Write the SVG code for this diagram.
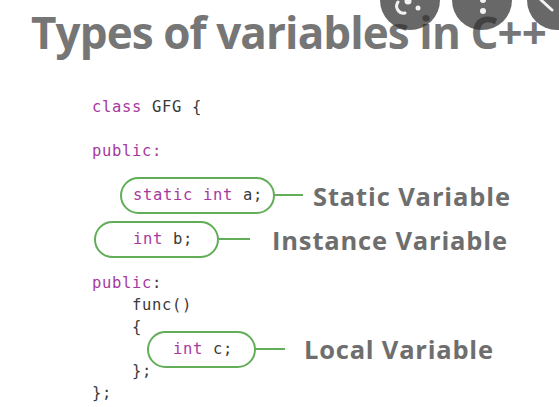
<svg xmlns="http://www.w3.org/2000/svg" width="559" height="407" viewBox="0 0 559 407">
<style>
.title{font-family:"Open Sans","Liberation Sans",sans-serif;font-weight:bold;font-size:44px;fill:#767676}
.lbl{font-family:"Open Sans","Liberation Sans",sans-serif;font-weight:bold;font-size:25.5px;fill:#6e6e6e}
.code{font-family:"DejaVu Sans Mono","Liberation Mono",monospace;font-size:15.5px;letter-spacing:0.67px;fill:#3a3a3a}
.kw{fill:#a8399f}
.pill{fill:none;stroke:#62ad58;stroke-width:2}
.conn line{stroke:#62ad58;stroke-width:2}
.ov{fill:#2e2e2e;fill-opacity:0.72}
</style>
<rect width="559" height="407" fill="#ffffff"/>
<text class="title" x="31" y="49" textLength="516">Types of variables in C++</text>
<g id="code">
<text class="code" x="92" y="112"><tspan class="kw">class</tspan> GFG {</text>
<text class="code kw" x="92" y="156">public:</text>
<text class="code" x="92" y="288"><tspan class="kw">public</tspan>:</text>
<text class="code" x="132" y="310">func()</text>
<text class="code" x="132" y="332">{</text>
<text class="code" x="132" y="376">};</text>
<text class="code" x="92" y="398">};</text>
</g>
<g id="static-node">
<rect class="pill" x="121" y="178" width="153" height="35" rx="17.5"/>
<text class="code" x="133" y="200"><tspan class="kw">static int</tspan> a;</text>
</g>
<g id="instance-node">
<rect class="pill" x="95" y="222" width="123" height="35" rx="17.5"/>
<text class="code" x="133" y="244"><tspan class="kw">int</tspan> b;</text>
</g>
<g id="local-node">
<rect class="pill" x="148" y="332" width="107" height="35" rx="17.5"/>
<text class="code" x="173" y="354"><tspan class="kw">int</tspan> c;</text>
</g>
<g class="conn" id="connectors">
<line x1="274" y1="195" x2="303" y2="195"/>
<line x1="218" y1="239" x2="250" y2="239"/>
<line x1="255" y1="349" x2="285" y2="349"/>
</g>
<g id="static-label"><text class="lbl" x="313" y="206" textLength="197">Static Variable</text></g>
<g id="instance-label"><text class="lbl" x="272" y="250" textLength="235">Instance Variable</text></g>
<g id="local-label"><text class="lbl" x="304" y="359" textLength="189">Local Variable</text></g>
<g id="overlay">
<circle class="ov" cx="410" cy="0" r="30"/>
<circle class="ov" cx="482" cy="0" r="30"/>
<circle class="ov" cx="557" cy="0" r="30"/>
<path d="M398 2 A7 7 0 0 0 405 13" fill="none" stroke="#f2f2f2" stroke-width="3" stroke-linecap="round"/>
<circle cx="408" cy="1" r="3.5" fill="#f2f2f2"/>
<circle cx="418" cy="8" r="2.5" fill="#f2f2f2"/>
<circle cx="483" cy="0" r="3" fill="#f2f2f2"/>
<circle cx="483" cy="11" r="3" fill="#f2f2f2"/>
<line x1="541" y1="0" x2="552" y2="10" stroke="#f2f2f2" stroke-width="3" stroke-linecap="round"/>
</g>
</svg>
